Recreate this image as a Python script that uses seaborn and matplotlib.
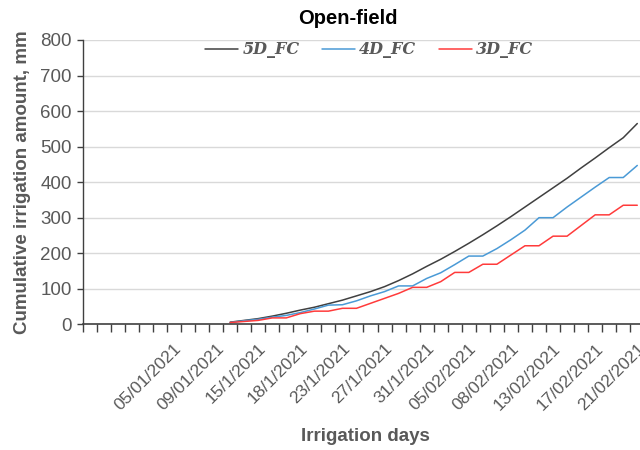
import numpy as np
import pandas as pd
import matplotlib
matplotlib.use("Agg")
import matplotlib.pyplot as plt
import seaborn as sns
from matplotlib.lines import Line2D

# ---- data ----
dates = [
    "30/12/2020", "31/12/2020", "01/01/2021", "02/01/2021", "03/01/2021", "04/01/2021",
    "05/01/2021", "07/01/2021", "08/01/2021", "09/01/2021", "11/01/2021", "13/01/2021",
    "15/1/2021", "16/1/2021", "17/1/2021", "18/1/2021", "20/1/2021", "21/1/2021",
    "23/1/2021", "24/1/2021", "26/1/2021", "27/1/2021", "28/1/2021", "30/1/2021",
    "31/1/2021", "02/02/2021", "03/02/2021", "05/02/2021", "06/02/2021", "07/02/2021",
    "08/02/2021", "10/02/2021", "11/02/2021", "13/02/2021", "14/02/2021", "15/02/2021",
    "17/02/2021", "18/02/2021", "19/02/2021", "21/02/2021",
]
nan = np.nan
fc5 = [nan] * 10 + [6, 11, 16, 23, 31, 40, 48, 58, 68, 80, 92, 106, 123, 142, 163,
                    183, 205, 228, 252, 277, 303, 330, 357, 384, 411, 440, 468, 497, 525, 565]
fc4 = [nan] * 10 + [5, 10, 14, 20, 25, 33, 43, 54, 55, 66, 80, 92, 108, 108, 129,
                    145, 168, 192, 192, 213, 238, 265, 300, 300, 330, 358, 386, 413, 413, 447]
fc3 = [nan] * 10 + [5, 8, 11, 18, 18, 30, 37, 37, 45, 45, 59, 73, 87, 104, 104,
                    120, 146, 146, 169, 169, 195, 221, 221, 248, 248, 278, 308, 308, 335, 335]
series_names = ["5D_FC", "4D_FC", "3D_FC"]
colors = ["#404040", "#4a9ad6", "#ff3b3b"]
shown_idx = list(range(6, 40, 3))

pos = np.arange(len(dates))
df = pd.concat([
    pd.DataFrame({"pos": pos, "date": dates, "value": vals, "series": name})
    for name, vals in zip(series_names, [fc5, fc4, fc3])
])
df = df.dropna()

sns.set_style("white")
fig = plt.figure(figsize=(6.4, 4.5), dpi=100)
ax = fig.add_axes([82.7 / 640, 1 - 324.3 / 450, (644.3 - 82.7) / 640, (324.3 - 40) / 450])

sns.lineplot(data=df, x="pos", y="value", hue="series", hue_order=series_names,
             palette=dict(zip(series_names, colors)), linewidth=1.1, ax=ax,
             legend=False, estimator=None, sort=False)

ax.set_xlim(-0.5, len(dates) - 0.5)
ax.set_ylim(0, 800)
ax.set_yticks(np.arange(0, 801, 100))
ax.yaxis.grid(True, color="#d9d9d9", linewidth=1.0)
ax.xaxis.grid(False)
ax.set_axisbelow(True)

ax.set_xticks(shown_idx)
ax.set_xticklabels([dates[i] for i in shown_idx], rotation=45, ha="right",
                   rotation_mode="anchor", fontsize=12.5, color="#595959",
                   family="Liberation Sans")
ax.set_xticks(np.arange(-0.5, len(dates), 1.0), minor=True)
ax.tick_params(axis="x", which="both", bottom=True)
ax.tick_params(axis="x", which="major", length=0, pad=12)
ax.tick_params(axis="x", which="minor", length=6, width=1, color="#404040", direction="out")
ax.tick_params(axis="y", left=True, length=4, width=1, color="#404040", direction="out", pad=4,
               labelsize=13.5, labelcolor="#595959")
for t in ax.get_yticklabels():
    t.set_family("Liberation Sans")

for s in ["top", "right"]:
    ax.spines[s].set_visible(False)
ax.spines["left"].set_color("#404040")
ax.spines["bottom"].set_color("#404040")
ax.spines["left"].set_linewidth(1.0)
ax.spines["bottom"].set_linewidth(1.2)

ax.set_xlabel("Irrigation days", fontsize=13.5, fontweight="bold", color="#595959",
              family="Liberation Sans")
ax.set_ylabel("Cumulative irrigation amount, mm", fontsize=13.5, fontweight="bold",
              color="#595959", family="Liberation Sans")
ax.xaxis.set_label_coords((365 - 82.7) / (644.3 - 82.7), -(428 - 324.3) / 284.3)
ax.yaxis.set_label_coords(-(82.7 - 31) / 561.6, 0.5)

fig.text(348 / 640, 1 - 18 / 450, "Open-field", ha="center", va="center",
         fontsize=14.5, fontweight="bold", color="black", family="Liberation Sans")

handles = [Line2D([], [], color=c, linewidth=1.1) for c in colors]
leg = ax.legend(handles, series_names, loc="center", bbox_to_anchor=(0.51, 1 - 10 / 284.3),
                ncol=3, frameon=False, handlelength=2.1, handletextpad=0.25,
                columnspacing=1.4, prop=dict(family="DejaVu Serif", style="italic",
                                             weight="bold", size=11.5))
for t in leg.get_texts():
    t.set_color("#595959")

fig.savefig("out.png", dpi=100)
